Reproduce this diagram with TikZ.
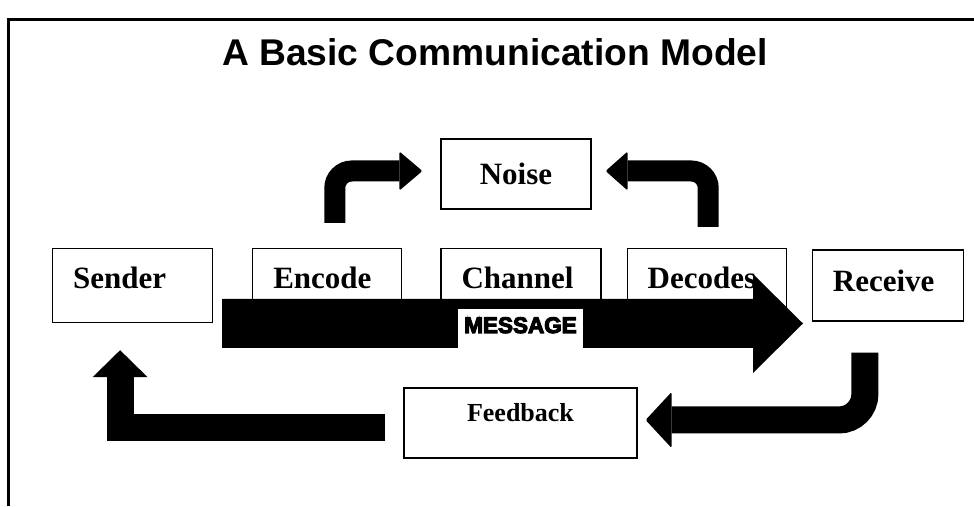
\documentclass[tikz,border=0pt]{standalone}
\usepackage{fontspec}
\setmainfont{Liberation Serif}
\newfontfamily\headfont{Liberation Sans}
\newfontfamily\msgfont[FakeBold=5]{Liberation Sans}
\usetikzlibrary{positioning}

\begin{document}
\begin{tikzpicture}[x=1pt, y=1pt,
    stagebox/.style={rectangle, draw, line width=1.2pt, text width=#1, align=left,
        inner xsep=20.5pt, inner ysep=0pt, text height=40pt, text depth=34pt,
        font=\fontsize{31}{33}\selectfont\bfseries},
    noisebox/.style={rectangle, draw, line width=1.2pt, minimum width=150pt, minimum height=70pt,
        font=\fontsize{31}{33}\selectfont\bfseries},
    fbbox/.style={rectangle, draw, line width=1.2pt, text width=201pt, align=center,
        inner xsep=16pt, inner ysep=0pt, text height=33.7pt, text depth=36.3pt,
        font=\fontsize{26}{28}\selectfont\bfseries},
    msglabel/.style={rectangle, fill=white, minimum width=125pt, minimum height=39pt, inner sep=0pt,
        text height=15pt, text depth=6pt, font=\msgfont\bfseries\fontsize{22.5}{24}\selectfont},
    bendline/.style={line width=21pt, rounded corners=17pt},
    loopline/.style={line width=27pt},
    headfill/.style={fill=black, rounded corners=1.5pt}]
    \useasboundingbox (0,0) rectangle (974,506);
    \draw[line width=3pt] (8.5,0) -- (8.5,486.5) -- (974,486.5);

    \node[font=\headfont\bfseries\fontsize{37.2}{40}\selectfont, anchor=base] (title) at (495,440) {A Basic Communication Model};

    \node[stagebox=119pt, anchor=north west] (sender) at (52,258) {Sender};
    \node[stagebox=108pt, right=39pt of sender] (encode) {Encode};
    \node[stagebox=119pt, right=38pt of encode] (channel) {Channel};
    \node[stagebox=118pt, right=25pt of channel] (decode) {Decodes};
    \node[stagebox=110pt, right=25pt of decode, text height=41pt, text depth=30pt] (receive) {Receive};

    \node[noisebox] (noise) at (516,332) {Noise};
    \node[fbbox] (feedback) at (520.5,83) {Feedback};

    \fill (222,207) -- (753,207) -- (753,232) -- (803,182.5) -- (753,133) -- (753,158) -- (222,158) -- cycle;
    \node[msglabel] (message) at (520.5,177.5) {MESSAGE};

    \draw[bendline] ([xshift=7.5pt,yshift=25pt]encode.north) |- ([xshift=-41pt,yshift=3pt]noise.west);
    \fill[headfill] ([xshift=-41pt,yshift=3pt]noise.west) ++(0,19.5) -- ++(23,-19.5) -- ++(-23,-19.5) -- cycle;
    \draw[bendline] ([xshift=1.5pt,yshift=21pt]decode.north) |- ([xshift=36pt,yshift=3pt]noise.east);
    \fill[headfill] ([xshift=36pt,yshift=3pt]noise.east) ++(0,19.5) -- ++(-22,-19.5) -- ++(22,-19.5) -- cycle;

    \draw[loopline, rounded corners=26pt] ([xshift=-23pt,yshift=-31pt]receive.south) |- ([xshift=34pt,yshift=3pt]feedback.east);
    \fill[headfill] ([xshift=34pt,yshift=3pt]feedback.east) ++(0,28) -- ++(-26,-28) -- ++(26,-28) -- cycle;
    \draw[loopline] ([xshift=-18pt,yshift=-4.5pt]feedback.west) -| ([xshift=-12.5pt,yshift=-54pt]sender.south);
    \fill ([xshift=-12.5pt,yshift=-54pt]sender.south) ++(-27.5,0) -- ++(27.5,27) -- ++(27.5,-27) -- cycle;
\end{tikzpicture}
\end{document}
